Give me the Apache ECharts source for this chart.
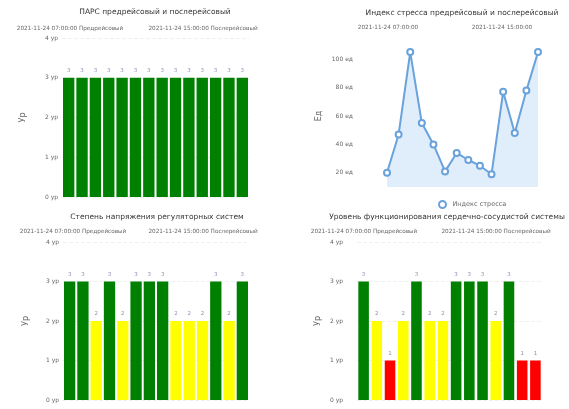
<!DOCTYPE html>
<html><head><meta charset="utf-8">
<script src="https://cdn.jsdelivr.net/npm/echarts@6/dist/echarts.min.js"></script>
<style>html,body{margin:0;padding:0;background:#fff}#c{width:569px;height:409px}</style>
</head><body><div id="c"></div>
<script>
const titles = [
  'ПАРС предрейсовый и послерейсовый',
  'Индекс стресса предрейсовый и послерейсовый',
  'Степень напряжения регуляторных систем',
  'Уровень функционирования сердечно-сосудистой системы'
];
const preLabel = '2021-11-24 07:00:00 Предрейсовый';
const postLabel = '2021-11-24 15:00:00 Послерейсовый';
const preDate = '2021-11-24 07:00:00';
const postDate = '2021-11-24 15:00:00';
const categories = ['1','2','3','4','5','6','7','8','9','10','11','12','13','14'];
const levelTicks = [0, 1, 2, 3, 4];
const parsValues = [3,3,3,3,3,3,3,3,3,3,3,3,3,3];
const stressValues = [20,47,105,55,40,21,34,29,25,19,77,48,78,105];
const regulValues = [3,3,2,3,2,3,3,3,2,2,2,3,2,3];
const cardioValues = [3,2,1,2,3,2,2,3,3,3,2,3,1,1];
const levelColors = {1:'#ff0000', 2:'#ffff00', 3:'#008000'};

const grids = [
  {left:62, top:38, width:187, height:159},
  {left:387, top:45, width:151, height:142},
  {left:63, top:242, width:186, height:158},
  {left:357, top:242, width:185, height:158}
];

function txt(x, y, text, size, color, align){
  return {type:'text', x:x, y:y, style:{text:text, fontSize:size, fill:color, textAlign:align||'center', textVerticalAlign:'middle', fontFamily:'DejaVu Sans'}};
}
const graphics = [
  txt(155,12,titles[0],7.5,'#333'),
  txt(462,13,titles[1],7.5,'#333'),
  txt(157,217,titles[2],7.5,'#333'),
  txt(447,217,titles[3],7.5,'#333'),
  txt(70,29,preLabel,5.7,'#666'),
  txt(203,29,postLabel,5.7,'#666'),
  txt(388,28,preDate,5.7,'#666'),
  txt(502,28,postDate,5.7,'#666'),
  txt(73,232,preLabel,5.7,'#666'),
  txt(203,232,postLabel,5.7,'#666'),
  txt(364,232,preLabel,5.7,'#666'),
  txt(496,232,postLabel,5.7,'#666')
];

function barY(idx, gap, margin){
  return {gridIndex:idx, type:'value', min:levelTicks[0], max:levelTicks[levelTicks.length-1], interval:1,
    name:'Ур', nameLocation:'middle', nameGap:gap, nameRotate:90, nameTextStyle:{fontSize:8,color:'#666'},
    axisLine:{show:false}, axisTick:{show:false},
    axisLabel:{fontSize:6, color:'#666', margin:margin, formatter:'{value} ур'},
    splitLine:{show:true, lineStyle:{color:'#f0f0f0', type:'dashed'}}};
}
function catX(idx, boundary){
  return {gridIndex:idx, type:'category', data:categories, boundaryGap:boundary,
    axisLine:{show:false}, axisTick:{show:false}, axisLabel:{show:false}};
}
function barSeries(idx, values, gap){
  return {type:'bar', xAxisIndex:idx, yAxisIndex:idx, data:values, barCategoryGap:gap,
    itemStyle:{color:function(p){return levelColors[p.value];}},
    label:{show:true, position:'top', fontSize:5.5, color:'#8a8db0', distance:4}};
}

const option = {
  animation:false,
  textStyle:{fontFamily:'DejaVu Sans'},
  graphic:graphics,
  grid:grids,
  legend:{data:['Индекс стресса'], left:433, top:195, itemWidth:10, itemHeight:7, itemGap:4,
    textStyle:{fontSize:6.5, color:'#666'}, icon:'emptyCircle'},
  xAxis:[catX(0,true), catX(1,false), catX(2,true), catX(3,true)],
  yAxis:[
    barY(0,35,4),
    {gridIndex:1, type:'value', min:10, max:110, interval:10,
      name:'Ед', nameLocation:'middle', nameGap:64, nameRotate:90, nameTextStyle:{fontSize:8,color:'#666'},
      axisLine:{show:false}, axisTick:{show:false},
      axisLabel:{fontSize:6, color:'#666', margin:34, formatter:function(v){return v%20===0 ? v+' ед' : '';}},
      splitLine:{show:false}},
    barY(2,33,4),
    barY(3,35,14)
  ],
  series:[
    barSeries(0, parsValues, '15%'),
    {name:'Индекс стресса', type:'line', xAxisIndex:1, yAxisIndex:1, data:stressValues,
      symbol:'emptyCircle', symbolSize:6,
      lineStyle:{color:'#6aa2dc', width:2}, itemStyle:{color:'#6aa2dc'},
      areaStyle:{color:'#d3e6f8'}},
    barSeries(2, regulValues, '15%'),
    barSeries(3, cardioValues, '20%')
  ]
};
const chart = echarts.init(document.getElementById('c'));
chart.setOption(option);
</script></body></html>
